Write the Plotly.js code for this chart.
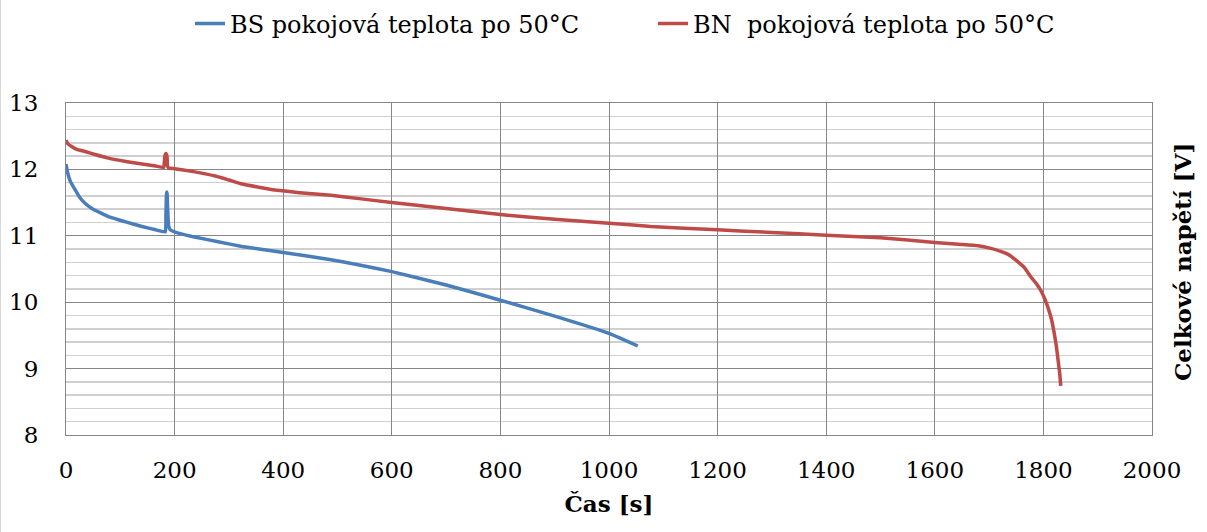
<!DOCTYPE html>
<html>
<head>
<meta charset="utf-8">
<script src="https://cdn.plot.ly/plotly-3.0.1.min.js"></script>
<style>
html,body{margin:0;padding:0;background:#fff;}
#chart{width:1207px;height:532px;box-sizing:border-box;border-left:1px solid #d9d9d9;}
</style>
</head>
<body>
<div id="chart"></div>
<script>
// BS pokojová teplota po 50°C
const bsTime = [0, 3, 8, 17, 25, 35, 50, 78, 110, 140, 165, 183, 184, 185, 186, 187, 189, 192, 200, 232, 280, 324, 400, 488, 540, 600, 700, 800, 900, 1000, 1053];
const bsVolt = [12.08, 11.95, 11.82, 11.69, 11.58, 11.49, 11.40, 11.29, 11.21, 11.14, 11.09, 11.06, 11.30, 11.62, 11.66, 11.45, 11.15, 11.09, 11.06, 10.99, 10.91, 10.84, 10.75, 10.64, 10.56, 10.46, 10.26, 10.03, 9.79, 9.53, 9.34];

// BN pokojová teplota po 50°C
const bnTime = [0, 3, 11, 20, 35, 55, 78, 110, 140, 165, 180, 181, 182, 184, 186, 187, 189, 200, 232, 275, 300, 324, 350, 385, 430, 488, 540, 600, 700, 800, 900, 1000, 1077, 1200, 1300, 1400, 1500, 1600, 1650, 1680, 1703, 1720, 1735, 1750, 1765, 1777, 1787, 1795, 1802, 1808, 1815, 1820, 1824, 1827, 1830, 1832];
const bnVolt = [12.44, 12.39, 12.34, 12.30, 12.27, 12.22, 12.17, 12.12, 12.08, 12.05, 12.03, 12.10, 12.20, 12.24, 12.20, 12.05, 12.02, 12.01, 11.97, 11.90, 11.84, 11.78, 11.74, 11.69, 11.65, 11.61, 11.56, 11.50, 11.41, 11.32, 11.25, 11.19, 11.14, 11.09, 11.05, 11.01, 10.97, 10.90, 10.87, 10.85, 10.81, 10.77, 10.72, 10.63, 10.52, 10.38, 10.28, 10.18, 10.06, 9.93, 9.74, 9.53, 9.33, 9.13, 8.93, 8.74];

const seriesNames = ['BS pokojová teplota po 50°C', 'BN\u00a0 pokojová teplota po 50°C'];
const xTitle = 'Čas [s]';
const yTitle = 'Celkové napětí [V]';

const font = 'DejaVu Serif';

const traces = [
  {x: bsTime, y: bsVolt, name: seriesNames[0], type: 'scatter', mode: 'lines', legend: 'legend',
   line: {color: '#4A7EBB', width: 3.5, shape: 'spline', smoothing: 0.3}},
  {x: bnTime, y: bnVolt, name: seriesNames[1], type: 'scatter', mode: 'lines', legend: 'legend2',
   line: {color: '#BE4B48', width: 3.5, shape: 'spline', smoothing: 0.3}}
];

const legendBase = {orientation: 'h', xref: 'container', yref: 'container', xanchor: 'left', yanchor: 'middle',
  y: 0.955, font: {family: font, size: 24, color: '#000'}, itemwidth: 30, bgcolor: 'rgba(0,0,0,0)', borderwidth: 0};

const layout = {
  width: 1207, height: 532,
  margin: {l: 65, r: 56, t: 103, b: 97, pad: 0},
  paper_bgcolor: '#ffffff', plot_bgcolor: '#ffffff',
  font: {family: font, size: 24, color: '#000'},
  showlegend: true,
  legend: Object.assign({}, legendBase, {x: 189 / 1207}),
  legend2: Object.assign({}, legendBase, {x: 652 / 1207}),
  xaxis: {
    range: [0, 2000], dtick: 200, tick0: 0, showgrid: true, gridcolor: '#868686', gridwidth: 1,
    zeroline: false, showline: true, linecolor: '#868686', linewidth: 1, mirror: true,
    ticks: '', ticklabelstandoff: 14, automargin: false,
    tickfont: {family: font, size: 23},
    title: {text: '<b>' + xTitle + '</b>', font: {family: font, size: 23}, standoff: 14}
  },
  yaxis: {
    range: [8, 13], dtick: 1, tick0: 8, showgrid: true, gridcolor: '#868686', gridwidth: 1,
    zeroline: false, showline: true, linecolor: '#868686', linewidth: 1, mirror: true,
    ticks: '', ticklabelstandoff: 22, automargin: false,
    tickfont: {family: font, size: 23},
    minor: {dtick: 0.2, showgrid: true, gridcolor: '#d0d0d0', gridwidth: 1.5}
  },
  annotations: [
    {text: '<b>' + yTitle + '</b>', xref: 'paper', yref: 'paper', x: 1.0, xshift: 30, y: 0.5, yshift: 7, xanchor: 'center', yanchor: 'middle',
     textangle: -90, showarrow: false, font: {family: font, size: 23, color: '#000'}}
  ]
};

Plotly.newPlot('chart', traces, layout, {displayModeBar: false, staticPlot: true});
</script>
</body>
</html>
